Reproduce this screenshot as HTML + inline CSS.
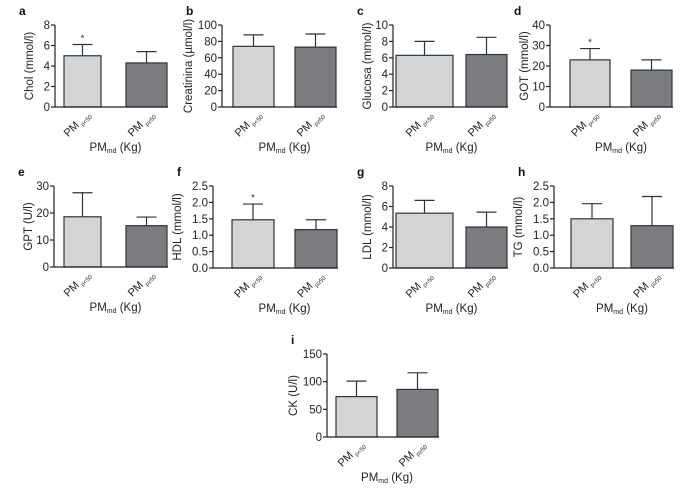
<!DOCTYPE html>
<html><head><meta charset="utf-8"><style>
body{margin:0;background:#fff;}
svg{display:block;font-family:"Liberation Sans",Arial,sans-serif;}
</style></head><body>
<svg id="fig" width="700" height="495" viewBox="0 0 700 495"></svg>
<script>
const panelLetters=["a","b","c","d","e","f","g","h","i"];
const yTitles=["Chol (mmol/l)","Creatinina (µmol/l)","Glucosa (mmol/l)","GOT (mmol/l)","GPT (U/l)","HDL (mmol/l)","LDL (mmol/l)","TG (mmol/l)","CK (U/l)"];
const categories=["p<50","p≥50"];
const meansLow=[5.0,74,6.3,23,18.6,1.47,5.35,1.5,73];
const meansHigh=[4.3,73,6.4,18,15.3,1.17,4.0,1.29,86];
const errTopLow=[6.1,88,8.0,28.5,27.5,1.95,6.6,1.96,101];
const errTopHigh=[5.4,89,8.5,23,18.5,1.47,5.45,2.18,116];
const yMax=[8,100,10,40,30,2.5,8,2.5,150];
const yStep=[2,20,2,10,10,0.5,2,0.5,50];
const tickDecimals=[0,0,0,0,0,1,0,1,0];
const starred=[true,false,false,true,false,true,false,false,false];
const layout=[
 [55,25,107,64,101,126,167,168],
 [222,25,107,233,274,295,336,337],
 [393,25,107,396,453,466,507,508],
 [550,25,107,570,610,631,672,673],
 [54,186,267,64,101,126,167,168],
 [213,186,268,232,274,295,337,338],
 [393,186,268,396,453,466,507,508],
 [554,186,268,571,613,631,673,674],
 [327,354,437,336,377,397,438,439]
];
const NS="http://www.w3.org/2000/svg";
const svg=document.getElementById('fig');
function mk(tag,attrs,parent){const e=document.createElementNS(NS,tag);for(const k in attrs)e.setAttribute(k,attrs[k]);(parent||svg).appendChild(e);return e;}
const fills=["#d3d4d6","#7b7c80"];
for(let p=0;p<9;p++){
  const [ax,top,bot,b1l,b1r,b2l,b2r,aend]=layout[p];
  const g=mk('g',{});
  
  
  const ys=v=>bot-(v/yMax[p])*(bot-top);
  const lt=mk('text',{x:ax-36,y:top-10,'font-size':12,'font-weight':'bold',fill:'#111'},g);
  lt.textContent=panelLetters[p];
  
  
  const bars=[[b1l,b1r,meansLow[p],errTopLow[p]],[b2l,b2r,meansHigh[p],errTopHigh[p]]];
  bars.forEach((b,i)=>{
    const [l,r,m,e]=b;const cx=(l+r)/2;
    const eb=mk('g',{},g);
    
    
    mk('line',{x1:cx,x2:cx,y1:ys(m),y2:ys(e),stroke:'#333','stroke-width':1.2},eb);
    mk('line',{x1:cx-10,x2:cx+10,y1:ys(e),y2:ys(e),stroke:'#333','stroke-width':1.2},eb);
    const rc=mk('rect',{x:l,y:ys(m),width:r-l,height:bot-ys(m),fill:fills[i],stroke:'#333','stroke-width':1.2},g);
    
    
    if(i==0&&starred[p]){const s=mk('text',{x:cx,y:ys(e)-3,'font-size':10,'text-anchor':'middle',fill:'#333'},g);s.textContent='*';
      
      }
    const t=mk('text',{transform:`translate(${cx+8},${bot+8}) rotate(-45)`,'text-anchor':'end','font-size':11,fill:'#222'},g);
    
    
    const t1=document.createElementNS(NS,'tspan');t1.textContent='PM';t.appendChild(t1);
    const t2=document.createElementNS(NS,'tspan');t2.setAttribute('font-size',6);t2.setAttribute('dy',3);t2.textContent=' '+categories[i];t.appendChild(t2);
  });
  const ya=mk('line',{x1:ax,x2:ax,y1:top,y2:bot,stroke:'#222','stroke-width':1.2},g);
  
  
  const xa=mk('line',{x1:ax,x2:aend,y1:bot,y2:bot,stroke:'#222','stroke-width':1.2},g);
  
  
  for(let v=0;v<=yMax[p]+1e-9;v+=yStep[p]){
    const y=ys(v);
    mk('line',{x1:ax-4,x2:ax,y1:y,y2:y,stroke:'#222','stroke-width':1.2},g);
    const tt=mk('text',{x:ax-5,y:y+4,'text-anchor':'end','font-size':11.5,fill:'#222'},g);
    tt.textContent=v.toFixed(tickDecimals[p]);
    
    
  }
  const yt=mk('text',{transform:`translate(${ax-(tickDecimals[p]?32:(yMax[p]>=100?30:22))},${(top+bot)/2}) rotate(-90)`,'text-anchor':'middle','font-size':11.5,fill:'#222'},g);
  yt.textContent=yTitles[p];
  
  
  const xt=mk('text',{x:(b1l+b2r)/2,y:bot+44,'text-anchor':'middle','font-size':11.5,fill:'#222'},g);
  
  
  const a1=document.createElementNS(NS,'tspan');a1.textContent='PM';xt.appendChild(a1);
  const a2=document.createElementNS(NS,'tspan');a2.setAttribute('font-size',7);a2.setAttribute('dy',2);a2.textContent='md';xt.appendChild(a2);
  const a3=document.createElementNS(NS,'tspan');a3.setAttribute('dy',-2);a3.textContent=' (Kg)';xt.appendChild(a3);
}
</script>
</body></html>
